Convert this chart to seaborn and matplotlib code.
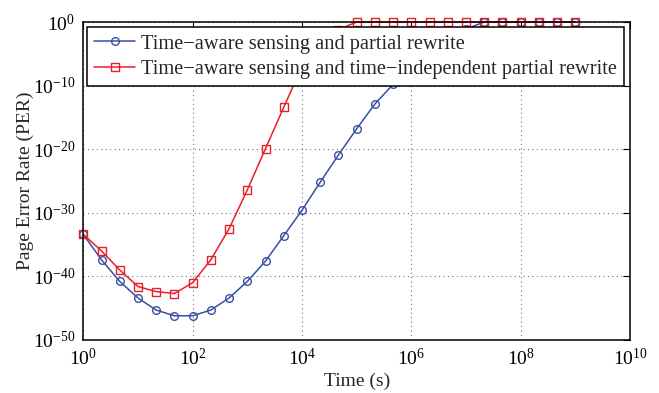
import numpy as np
import pandas as pd
import matplotlib
matplotlib.use("Agg")
import matplotlib.pyplot as plt
import seaborn as sns
from matplotlib.ticker import FixedLocator, LogFormatterSciNotation, NullLocator

# log10 of time (s): three points per decade
log_time = [0.0, 0.333, 0.667, 1.0, 1.333, 1.667, 2.0, 2.333, 2.667, 3.0,
            3.333, 3.667, 4.0, 4.333, 4.667, 5.0, 5.333, 5.667, 6.0, 6.333,
            6.667, 7.0, 7.333, 7.667, 8.0, 8.333, 8.667, 9.0]

# log10 of page error rate
log_per_partial = [-33.4, -37.4, -40.8, -43.4, -45.3, -46.2, -46.2, -45.3, -43.4, -40.8,
                   -37.6, -33.6, -29.6, -25.2, -20.9, -16.8, -12.9, -9.8, -7.0, -4.8,
                   -2.8, -1.1, 0.0, 0.0, 0.0, 0.0, 0.0, 0.0]
log_per_indep = [-33.4, -36.0, -39.0, -41.6, -42.4, -42.7, -41.0, -37.4, -32.5, -26.4,
                 -19.9, -13.4, -7.0, -3.3, -1.2, 0.0, 0.0, 0.0, 0.0, 0.0,
                 0.0, 0.0, 0.0, 0.0, 0.0, 0.0, 0.0, 0.0]

label_partial = "Time\u2212aware sensing and partial rewrite"
label_indep = "Time\u2212aware sensing and time\u2212independent partial rewrite"

x_ticks = [1e0, 1e2, 1e4, 1e6, 1e8, 1e10]
y_ticks = [1e-50, 1e-40, 1e-30, 1e-20, 1e-10, 1e0]

time = [10 ** v for v in log_time]
df = pd.DataFrame({
    "time": time * 2,
    "per": [10 ** v for v in log_per_partial] + [10 ** v for v in log_per_indep],
    "series": [label_partial] * len(time) + [label_indep] * len(time),
})

sns.set_style("white")
plt.rcParams["font.family"] = ["Liberation Serif", "DejaVu Serif"]
plt.rcParams["mathtext.fontset"] = "custom"
plt.rcParams["mathtext.rm"] = "Liberation Serif"
plt.rcParams["mathtext.it"] = "Liberation Serif:italic"
plt.rcParams["mathtext.bf"] = "Liberation Serif:bold"

fig = plt.figure(figsize=(6.59, 3.93), dpi=100)
ax = fig.add_axes([0.1264, 0.135, 0.8296, 0.809])

blue = "#3a4ea3"
red = "#e8202a"
sns.lineplot(data=df, x="time", y="per", hue="series", style="series",
             palette={label_partial: blue, label_indep: red},
             markers={label_partial: "o", label_indep: "s"},
             dashes={label_partial: "", label_indep: ""},
             markersize=5.5, markerfacecolor="none", linewidth=1.1,
             markeredgewidth=1.0, ax=ax, sort=False, clip_on=False)
for line in ax.lines:
    line.set_markeredgecolor(line.get_color())
    line.set_markerfacecolor("none")
    if line.get_marker() == "s":
        line.set_markersize(5.2)

ax.set_xscale("log")
ax.set_yscale("log")
ax.set_xlim(1e0, 1e10)
ax.set_ylim(1e-50, 1e0)
ax.xaxis.set_major_locator(FixedLocator(x_ticks))
ax.yaxis.set_major_locator(FixedLocator(y_ticks))
ax.xaxis.set_minor_locator(NullLocator())
ax.yaxis.set_minor_locator(NullLocator())
ax.xaxis.set_major_formatter(LogFormatterSciNotation())
ax.yaxis.set_major_formatter(LogFormatterSciNotation())

ax.grid(True, which="major", linestyle=(0, (1, 3)), color="#777777", linewidth=0.8)
ax.tick_params(axis="both", which="major", direction="in", length=5, width=0.8,
               top=True, right=True, labelsize=14, pad=6, colors="black")
for s in ax.spines.values():
    s.set_visible(True)
    s.set_color("black")
    s.set_linewidth(1.1)

ax.set_xlabel("Time (s)", fontsize=14, labelpad=2)
ax.set_ylabel("Page Error Rate (PER)", fontsize=14, labelpad=-1)

handles, labels = ax.get_legend_handles_labels()
for h in handles:
    h.set_markerfacecolor("none")
    h.set_markeredgecolor(h.get_color())
leg = ax.legend(handles, labels, loc="upper left", bbox_to_anchor=(0.007, 0.984),
                fontsize=14.7, frameon=True, fancybox=False, framealpha=1,
                edgecolor="black", handlelength=2.0, handletextpad=0.3,
                borderpad=0.35, labelspacing=0.3, borderaxespad=0)
leg.get_frame().set_linewidth(1.1)
leg.set_zorder(5)

fig.savefig("out.png", dpi=100)
